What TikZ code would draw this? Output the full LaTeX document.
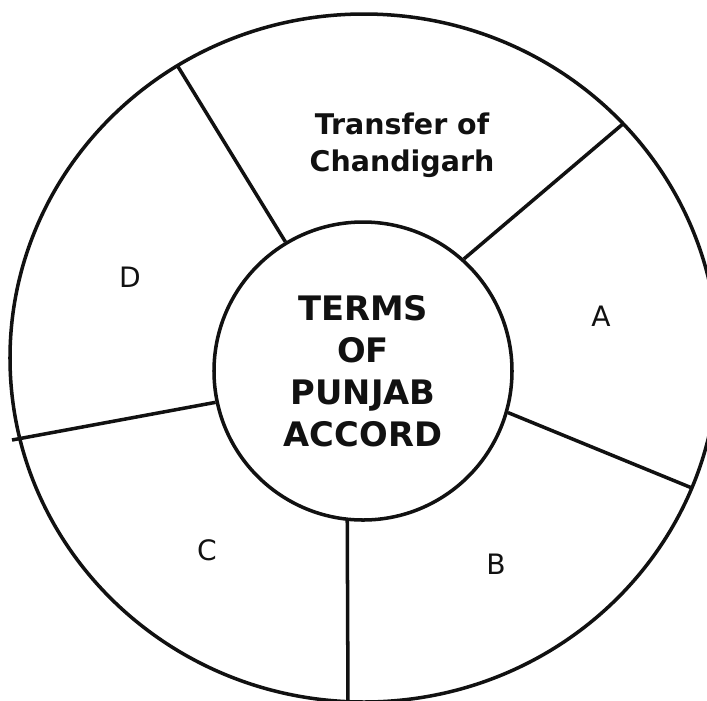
\documentclass[tikz,border=0pt]{standalone}
\usepackage{fontspec}
\setmainfont{DejaVu Sans}
\usepackage{xcolor}
\definecolor{ink}{HTML}{111111}

\begin{document}
\begin{tikzpicture}[x=1cm, y=1cm, line width=1pt,
    core/.style={circle, draw=ink, minimum size=2.98cm, inner sep=0pt, align=center, text=ink,
      font={\fontsize{9.6}{11.95}\selectfont\bfseries}},
    sector/.style={align=center, text=ink, font={\fontsize{8.1}{10.4}\selectfont\bfseries}},
    letter/.style={text=ink, font={\fontsize{8}{9.6}\selectfont}}]
    \useasboundingbox (0,0) rectangle (7.07,7.00);
    \clip (0,0) rectangle (7.07,7.00);
    % Outer ring, cut by the page at the bottom and the right.
    \coordinate (rim) at (3.64,3.42);
    \draw[ink] (rim) ellipse [x radius=3.54, y radius=3.44];
    % The core with the title.
    \node[core] (terms) at (3.63,3.29) {TERMS\\OF\\PUNJAB\\ACCORD};
    % Spokes: from the core out to the ring.
    \foreach \n/\p in {tl/{1.77,6.35}, tr/{6.24,5.77}, rr/{6.92,2.12}, bb/{3.48,-0.05}, ll/{0.12,2.60}} {
      \coordinate (\n) at (\p);
    }
    \foreach \a/\n in {121.3/tl, 48.5/tr, 344.6/rr, 264.4/bb, 192.5/ll} {
      \draw[ink] (terms.\a) -- (\n);
    }
    % Labels of the sectors.
    \node[sector] (secT) at (4.02,5.55) {Transfer of\\Chandigarh};
    \foreach \n/\x/\y in {A/6.01/3.84, B/4.96/1.36, C/2.07/1.50, D/1.30/4.23} {
      \node[letter] (sec\n) at (\x,\y) {\n};
    }
  \end{tikzpicture}
\end{document}
